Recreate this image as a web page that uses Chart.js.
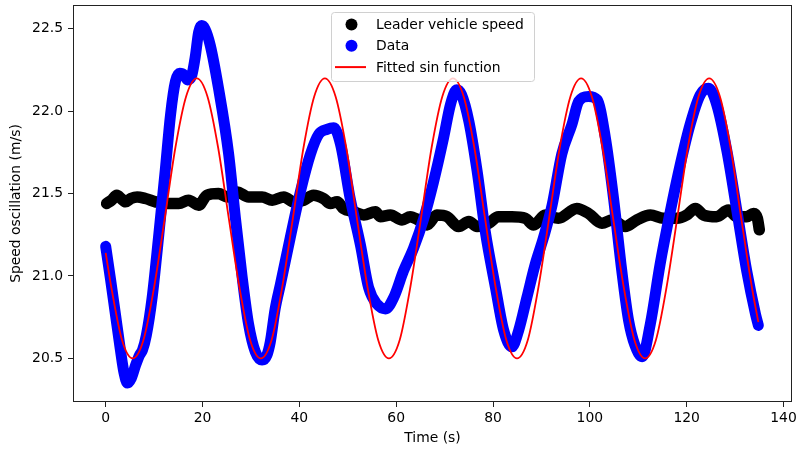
<!DOCTYPE html>
<html>
<head>
<meta charset="utf-8">
<script src="https://cdn.jsdelivr.net/npm/chart.js@4/dist/chart.umd.min.js"></script>
<style>
  html, body { margin: 0; padding: 0; background: #fff; }
  #wrap { width: 798px; height: 454px; }
</style>
</head>
<body>
<div id="wrap"><canvas id="chart" width="798" height="454"></canvas></div>
<script>
// --- data ---
const leaderTime = [0.2, 1.2, 2.3, 3.2, 4.1, 5.2, 6.5, 8.2, 10.3, 11.8, 13.0, 15.1, 17.1, 19.2, 20.9, 23.3, 25.1, 27.1, 29.5, 32.3,
  34.4, 36.8, 38.8, 40.9, 42.9, 45.0, 46.4, 47.8, 49.1, 51.2, 53.3, 55.7, 56.7, 58.8, 61.2, 62.9, 64.6, 66.4, 68.4, 70.5,
  72.9, 75.0, 76.7, 79.1, 81.1, 83.9, 86.7, 88.4, 90.8, 93.5, 97.3, 99.7, 102.5, 104.6, 107.3, 109.7, 112.5, 115.2, 118.0, 120.0,
  121.8, 123.5, 126.2, 128.6, 130.4, 132.4, 133.8, 134.6, 135.0];
const leaderSpeed = [21.44, 21.46, 21.49, 21.47, 21.45, 21.47, 21.48, 21.47, 21.45, 21.44, 21.44, 21.44, 21.46, 21.43, 21.49, 21.50, 21.48, 21.51, 21.48, 21.48,
  21.46, 21.48, 21.45, 21.46, 21.49, 21.47, 21.44, 21.45, 21.41, 21.39, 21.37, 21.39, 21.36, 21.37, 21.34, 21.36, 21.34, 21.31, 21.37, 21.36,
  21.30, 21.33, 21.30, 21.32, 21.36, 21.36, 21.35, 21.31, 21.37, 21.35, 21.41, 21.38, 21.32, 21.34, 21.30, 21.34, 21.37, 21.35, 21.35, 21.37,
  21.41, 21.37, 21.36, 21.40, 21.36, 21.36, 21.38, 21.35, 21.28];

const dataTime = [0, 1.0, 2.0, 3.0, 3.8, 4.5, 5.3, 6.2, 7.0, 7.6, 8.4, 9.6, 10.9, 12.3, 13.4, 14.4, 15.3, 16.2, 16.9, 17.8,
  18.5, 19.2, 19.8, 20.5, 21.6, 23.3, 25.4, 26.8, 28.2, 29.5, 30.9, 32.3, 33.3, 34.0, 35.0, 36.1, 38.1, 40.2, 42.3, 44.0,
  45.7, 47.1, 48.5, 50.5, 52.6, 54.3, 56.0, 57.8, 59.5, 61.5, 63.6, 65.7, 67.7, 69.8, 71.2, 72.5, 73.5, 75.0, 76.7, 78.4,
  80.5, 82.2, 83.9, 85.3, 87.0, 88.7, 90.4, 92.2, 94.2, 96.3, 97.7, 99.7, 101.5, 103.2, 104.9, 106.6, 108.0, 109.3, 110.8, 112.5,
  114.5, 116.6, 118.7, 120.7, 122.8, 124.5, 126.2, 128.3, 130.4, 132.4, 134.2, 134.8];
const dataSpeed = [21.18, 20.98, 20.77, 20.56, 20.41, 20.35, 20.38, 20.46, 20.52, 20.55, 20.64, 20.87, 21.23, 21.64, 21.98, 22.18, 22.23, 22.22, 22.19, 22.22,
  22.33, 22.48, 22.52, 22.50, 22.40, 22.14, 21.74, 21.35, 20.99, 20.71, 20.54, 20.49, 20.52, 20.60, 20.80, 20.95, 21.23, 21.51, 21.74, 21.86,
  21.89, 21.90, 21.80, 21.47, 21.19, 20.93, 20.83, 20.80, 20.87, 21.03, 21.17, 21.35, 21.57, 21.84, 22.04, 22.13, 22.10, 21.94, 21.64, 21.27,
  20.93, 20.67, 20.57, 20.67, 20.87, 21.07, 21.23, 21.43, 21.74, 21.92, 22.06, 22.09, 22.07, 21.84, 21.47, 21.03, 20.73, 20.58, 20.51, 20.71,
  21.07, 21.39, 21.68, 21.92, 22.10, 22.14, 22.04, 21.76, 21.39, 21.03, 20.77, 20.70];

const fitTime = [0, 1.17, 3.38, 5.58, 7.79, 9.99, 12.20, 14.40, 16.61, 18.81, 21.02, 23.22, 25.43, 27.63, 29.84, 32.04,
  34.25, 36.45, 38.66, 40.86, 43.07, 45.27, 47.48, 49.68, 51.89, 54.09, 56.30, 58.50, 60.71, 62.91, 65.12, 67.32,
  69.53, 71.73, 73.94, 76.14, 78.35, 80.55, 82.76, 84.96, 87.17, 89.37, 91.58, 93.78, 95.99, 98.19, 100.40, 102.60,
  104.81, 107.01, 109.22, 111.42, 113.63, 115.83, 118.04, 120.24, 122.45, 124.65, 126.86, 129.06, 131.27, 133.47, 134.80];
const fitSpeed = [21.14, 20.93, 20.61, 20.50, 20.61, 20.93, 21.35, 21.78, 22.09, 22.20, 22.09, 21.78, 21.35, 20.93, 20.61, 20.50,
  20.61, 20.93, 21.35, 21.78, 22.09, 22.20, 22.09, 21.78, 21.35, 20.93, 20.61, 20.50, 20.61, 20.93, 21.35, 21.78,
  22.09, 22.20, 22.09, 21.78, 21.35, 20.93, 20.61, 20.50, 20.61, 20.93, 21.35, 21.78, 22.09, 22.20, 22.09, 21.78,
  21.35, 20.93, 20.61, 20.50, 20.61, 20.93, 21.35, 21.78, 22.09, 22.20, 22.09, 21.78, 21.35, 20.93, 20.72];

const xTickValues = [0, 20, 40, 60, 80, 100, 120, 140];
const yTickValues = [20.5, 21.0, 21.5, 22.0, 22.5];

const toPoints = (xs, ys) => xs.map((x, i) => ({ x: x, y: ys[i] }));

Chart.defaults.font.family = "'DejaVu Sans', sans-serif";
Chart.defaults.font.size = 13.9;
Chart.defaults.color = '#000';

// no extra room for the outer tick labels, the plot box is fixed
function noLabelPadding(s) {
  s.paddingTop = 0;
  s.paddingBottom = 0;
  s.paddingLeft = 0;
  s.paddingRight = 0;
}

// frame round the plot (matplotlib spines)
const framePlugin = {
  id: 'frame',
  afterDatasetsDraw(chart) {
    const { ctx, chartArea: a } = chart;
    const l = Math.round(a.left) + 0.5, t = Math.round(a.top) + 0.5;
    const r = Math.round(a.right) - 0.5, b = Math.round(a.bottom) - 0.5;
    ctx.save();
    ctx.strokeStyle = '#222';
    ctx.lineWidth = 1;
    ctx.strokeRect(l, t, r - l, b - t);
    ctx.restore();
  }
};

// legend box inside the plot, upper centre
const boxLegend = {
  id: 'boxLegend',
  afterDraw(chart) {
    const ctx = chart.ctx;
    ctx.save();
    ctx.beginPath();
    ctx.roundRect(331.5, 12.5, 203, 69, 3);
    ctx.fillStyle = 'rgba(255,255,255,0.8)';
    ctx.fill();
    ctx.strokeStyle = '#d0d0d0';
    ctx.lineWidth = 1;
    ctx.stroke();
    ctx.font = "13.9px 'DejaVu Sans', sans-serif";
    ctx.textBaseline = 'middle';
    chart.data.datasets.forEach((ds, i) => {
      const y = 24.5 + i * 21.3;
      if (ds.legendMarker === 'line') {
        ctx.strokeStyle = ds.borderColor;
        ctx.lineWidth = 2;
        ctx.beginPath();
        ctx.moveTo(335, y);
        ctx.lineTo(366, y);
        ctx.stroke();
      } else {
        ctx.fillStyle = ds.borderColor;
        ctx.beginPath();
        ctx.arc(351.5, y, 6, 0, Math.PI * 2);
        ctx.fill();
      }
      ctx.fillStyle = '#000';
      ctx.fillText(ds.label, 376, y + 1);
    });
    ctx.restore();
  }
};

const ctx = document.getElementById('chart').getContext('2d');
new Chart(ctx, {
  type: 'line',
  data: {
    datasets: [
      {
        label: 'Leader vehicle speed',
        data: toPoints(leaderTime, leaderSpeed),
        borderColor: '#000000',
        borderWidth: 11.5,
        borderCapStyle: 'round',
        borderJoinStyle: 'round',
        cubicInterpolationMode: 'monotone',
        pointRadius: 0,
        fill: false,
        legendMarker: 'circle',
        order: 3
      },
      {
        label: 'Data',
        data: toPoints(dataTime, dataSpeed),
        borderColor: '#0000ff',
        borderWidth: 11,
        borderCapStyle: 'round',
        borderJoinStyle: 'round',
        cubicInterpolationMode: 'monotone',
        pointRadius: 0,
        fill: false,
        legendMarker: 'circle',
        order: 2
      },
      {
        label: 'Fitted sin function',
        data: toPoints(fitTime, fitSpeed),
        borderColor: '#ff0000',
        borderWidth: 1.8,
        cubicInterpolationMode: 'monotone',
        pointRadius: 0,
        fill: false,
        legendMarker: 'line',
        order: 1
      }
    ]
  },
  options: {
    responsive: false,
    animation: false,
    layout: { padding: { left: 0, right: 6, top: 5, bottom: 0 } },
    plugins: {
      legend: { display: false },
      tooltip: { enabled: false }
    },
    scales: {
      x: {
        type: 'linear',
        min: -6.75,
        max: 141.75,
        afterBuildTicks: s => { s.ticks = xTickValues.map(v => ({ value: v })); },
        afterFit: s => { s.height = 52; noLabelPadding(s); },
        grid: { drawOnChartArea: false, drawTicks: true, tickLength: 5, color: '#222', tickWidth: 1 },
        border: { display: false },
        ticks: { padding: 3, maxRotation: 0, callback: v => String(v) },
        title: { display: true, text: 'Time (s)', padding: { top: 0, bottom: 7 } }
      },
      y: {
        type: 'linear',
        min: 20.235,
        max: 22.645,
        afterBuildTicks: s => { s.ticks = yTickValues.map(v => ({ value: v })); },
        afterFit: s => { s.width = 73; noLabelPadding(s); },
        grid: { drawOnChartArea: false, drawTicks: true, tickLength: 5, color: '#222', tickWidth: 1 },
        border: { display: false },
        ticks: { padding: 5, callback: v => v.toFixed(1) },
        title: { display: true, text: 'Speed oscillation (m/s)', padding: { top: 8, bottom: 0 } }
      }
    }
  },
  plugins: [framePlugin, boxLegend]
});
</script>
</body>
</html>
